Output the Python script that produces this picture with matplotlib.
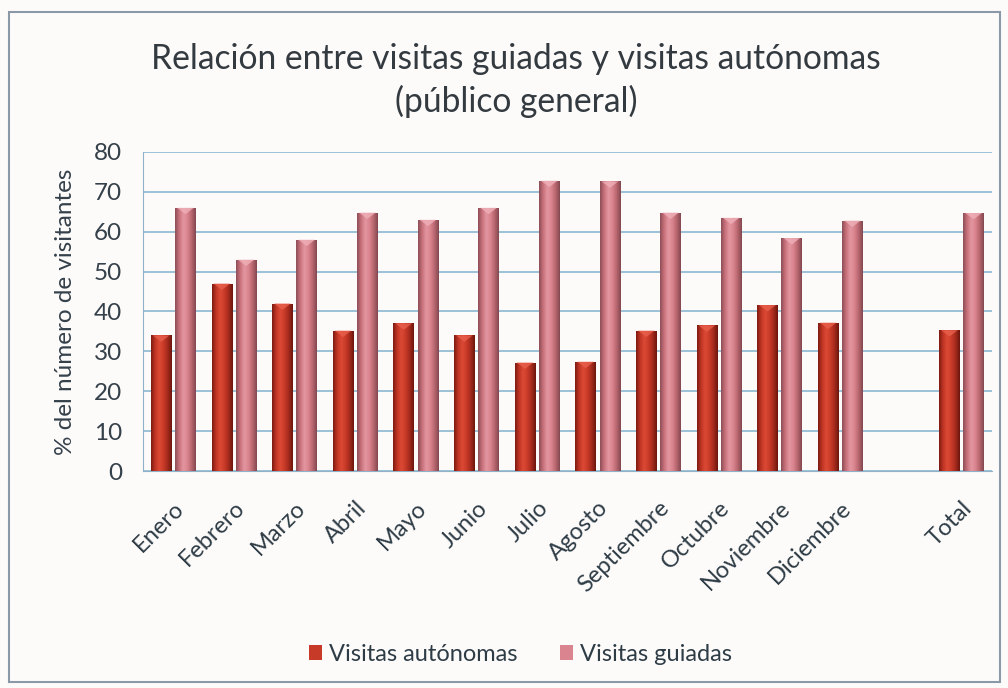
import numpy as np
import matplotlib
matplotlib.use("Agg")
import matplotlib.pyplot as plt
from matplotlib.patches import Rectangle, Patch
from matplotlib.colors import LinearSegmentedColormap

plt.rcParams['font.family'] = ['Lato', 'DejaVu Sans']

categories = ['Enero', 'Febrero', 'Marzo', 'Abril', 'Mayo', 'Junio', 'Julio',
              'Agosto', 'Septiembre', 'Octubre', 'Noviembre', 'Diciembre', '', 'Total']
autonomas = [34.0, 47.0, 42.0, 35.2, 37.0, 34.0, 27.2, 27.4, 35.2, 36.5, 41.6, 37.2, np.nan, 35.3]
guiadas = [66.0, 53.0, 58.0, 64.8, 63.0, 66.0, 72.8, 72.6, 64.8, 63.5, 58.4, 62.8, np.nan, 64.7]
series_names = ['Visitas autónomas', 'Visitas guiadas']

red_cmap = LinearSegmentedColormap.from_list(
    'red', ['#7e1b12', '#c13624', '#dc4a36', '#c83a28', '#a42a1c', '#6e160e'])
pink_cmap = LinearSegmentedColormap.from_list(
    'pink', ['#8e4e56', '#c9727c', '#e496a0', '#d9848e', '#b8666f', '#844850'])

fig = plt.figure(figsize=(10.08, 6.88), dpi=100, facecolor='#fdfbfa')
ax = fig.add_axes([0.1419, 0.3154, 0.8421, 0.4637])
ax.set_facecolor('#fdfbfa')

x = np.arange(len(categories))
w = 0.34
b1 = ax.bar(x - 0.2, autonomas, w, color='#c83a28', zorder=2)
b2 = ax.bar(x + 0.2, guiadas, w, color='#d9848e', zorder=2)

# cylinder-like shading plus a small bevel on top of each bar
grad = np.linspace(0, 1, 64).reshape(1, -1)
for bars, cmap, cap in ((b1, red_cmap, '#e8604c'), (b2, pink_cmap, '#efb0b8')):
    for p in bars:
        h = p.get_height()
        if np.isnan(h):
            continue
        x0 = p.get_x()
        bw = p.get_width()
        im = ax.imshow(grad, cmap=cmap, aspect='auto', zorder=3,
                       extent=[x0, x0 + bw, 0, h])
        im.set_clip_path(p)
        ax.fill([x0 + bw * 0.1, x0 + bw * 0.9, x0 + bw * 0.5],
                [h, h, h - 1.6], color=cap, alpha=0.8, zorder=4, lw=0)

ax.set_xlim(-0.5, len(categories) - 0.5)
ax.set_ylim(0, 80)
ax.set_yticks(range(0, 81, 10))
ax.yaxis.grid(True, color='#94bcd4', linewidth=1.3, zorder=0)
ax.set_axisbelow(True)
for s in ['right', 'top']:
    ax.spines[s].set_visible(False)
ax.spines['left'].set_color('#8fb2c8')
ax.spines['bottom'].set_color('#8fb2c8')
ax.tick_params(axis='y', length=0, labelsize=17.5, colors='#34404a', pad=15)
ax.tick_params(axis='x', length=0, labelsize=17, colors='#2e3c46', pad=19)
ax.set_xticks(x)
ax.set_xticklabels(categories, rotation=45, ha='right', va='top',
                   rotation_mode='anchor')
ax.set_ylabel('% del número de visitantes', fontsize=17.5, color='#34404a',
              labelpad=13)

fig.text(0.512, 0.883, 'Relación entre visitas guiadas y visitas autónomas\n(público general)',
         ha='center', va='center', fontsize=24.2, color='#333a40', linespacing=1.35)

handles = [Patch(facecolor='#c83a28'), Patch(facecolor='#d9848e')]
fig.legend(handles, series_names, loc='center', bbox_to_anchor=(0.516, 0.049),
           ncol=2, frameon=False, handlelength=0.55, handleheight=0.55,
           handletextpad=0.3, columnspacing=1.8, labelcolor='#2e3c46',
           fontsize=17)

fig.patches.append(Rectangle((0.009, 0.008), 0.983, 0.975, transform=fig.transFigure,
                             fill=False, edgecolor='#8a98a8', linewidth=1.5))

fig.savefig('out.png', dpi=100, facecolor=fig.get_facecolor())
